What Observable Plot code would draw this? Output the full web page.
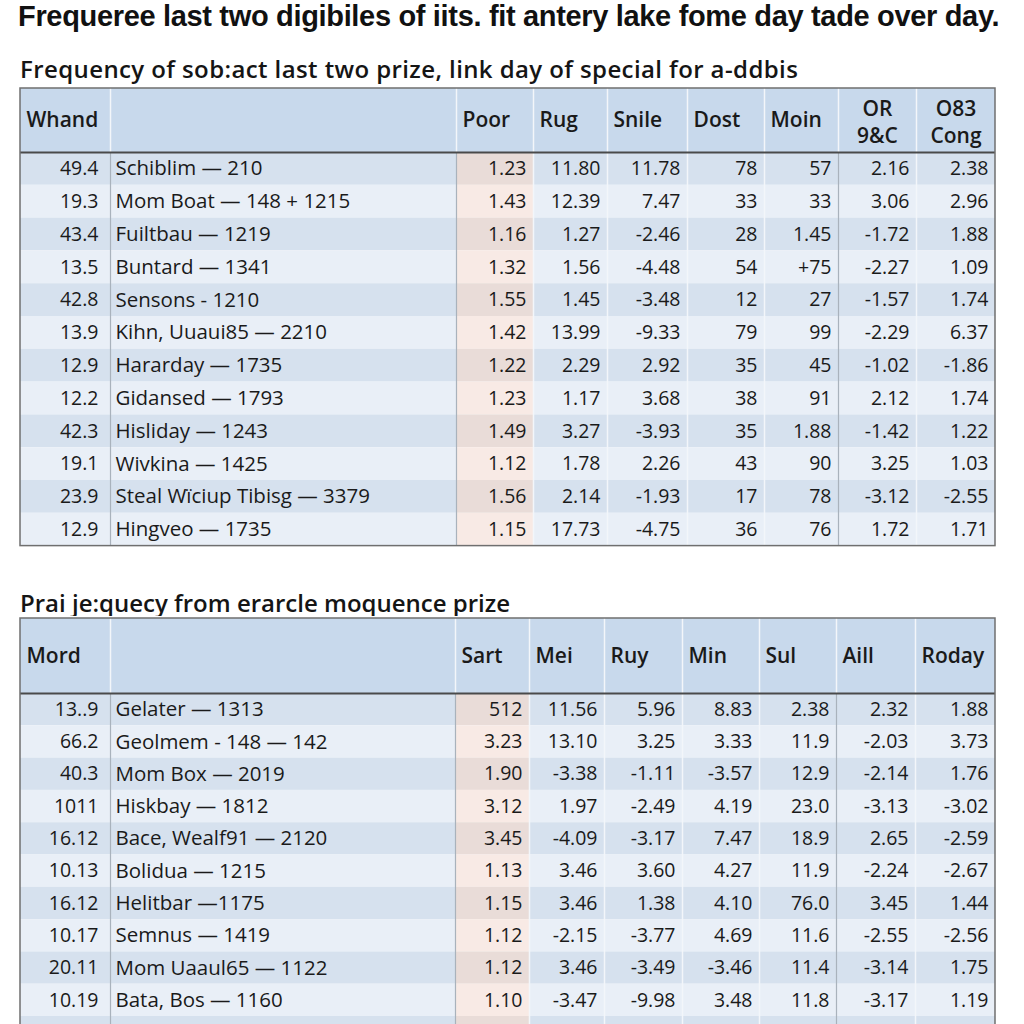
<!DOCTYPE html>
<html><head><meta charset="utf-8">
<script src="https://cdn.jsdelivr.net/npm/d3@7"></script>
<script src="https://cdn.jsdelivr.net/npm/@observablehq/plot@0.6"></script>
<style>
html,body{margin:0;padding:0;background:#fff;}
body{width:1024px;height:1024px;overflow:hidden;position:relative;font-family:"Open Sans",sans-serif;color:#111;}
#title{position:absolute;left:18px;top:0;font-family:"Liberation Sans Narrow","Liberation Sans",sans-serif;font-weight:700;font-size:29px;letter-spacing:-0.33px;line-height:32px;white-space:nowrap;color:#111;}
.sub{position:absolute;left:20px;font-family:"Open Sans",sans-serif;font-weight:600;font-size:24px;line-height:30px;white-space:nowrap;color:#151515;}
#sub1{top:54px;letter-spacing:0.4px;}
#sub2{top:588px;}
#t1{position:absolute;left:0;top:86px;}
#t2{position:absolute;left:0;top:616px;}
</style></head><body>
<div id="title"></div>
<div class="sub" id="sub1"></div>
<div id="t1"></div>
<div class="sub" id="sub2"></div>
<div id="t2"></div>
<script>
// ---------- texts ----------
const title = "Frequeree last two digibiles of iits. fit antery lake fome day tade over day.";
const subtitle1 = "Frequency of sob:act last two prize, link day of special for a-ddbis";
const subtitle2 = "Prai je:quecy from erarcle moquence prize";

// ---------- table 1 data ----------
const t1Headers = ["Whand", "", "Poor", "Rug", "Snile", "Dost", "Moin", "OR\n9&C", "O83\nCong"];
const t1Index = ["49.4", "19.3", "43.4", "13.5", "42.8", "13.9", "12.9", "12.2", "42.3", "19.1", "23.9", "12.9"];
const t1Names = ["Schiblim — 210", "Mom Boat — 148 + 1215", "Fuiltbau — 1219", "Buntard — 1341", "Sensons - 1210", "Kihn, Uuaui85 — 2210", "Hararday — 1735", "Gidansed — 1793", "Hisliday — 1243", "Wivkina — 1425", "Steal Wïciup Tibisg — 3379", "Hingveo — 1735"];
const t1Poor = ["1.23", "1.43", "1.16", "1.32", "1.55", "1.42", "1.22", "1.23", "1.49", "1.12", "1.56", "1.15"];
const t1Rug = ["11.80", "12.39", "1.27", "1.56", "1.45", "13.99", "2.29", "1.17", "3.27", "1.78", "2.14", "17.73"];
const t1Snile = ["11.78", "7.47", "-2.46", "-4.48", "-3.48", "-9.33", "2.92", "3.68", "-3.93", "2.26", "-1.93", "-4.75"];
const t1Dost = ["78", "33", "28", "54", "12", "79", "35", "38", "35", "43", "17", "36"];
const t1Moin = ["57", "33", "1.45", "+75", "27", "99", "45", "91", "1.88", "90", "78", "76"];
const t1OR = ["2.16", "3.06", "-1.72", "-2.27", "-1.57", "-2.29", "-1.02", "2.12", "-1.42", "3.25", "-3.12", "1.72"];
const t1Cong = ["2.38", "2.96", "1.88", "1.09", "1.74", "6.37", "-1.86", "1.74", "1.22", "1.03", "-2.55", "1.71"];

// ---------- table 2 data ----------
const t2Headers = ["Mord", "", "Sart", "Mei", "Ruy", "Min", "Sul", "Aill", "Roday"];
const t2Index = ["13..9", "66.2", "40.3", "1011", "16.12", "10.13", "16.12", "10.17", "20.11", "10.19", ""];
const t2Names = ["Gelater — 1313", "Geolmem - 148 — 142", "Mom Box — 2019", "Hiskbay — 1812", "Bace, Wealf91 — 2120", "Bolidua — 1215", "Helitbar —1175", "Semnus — 1419", "Mom Uaaul65 — 1122", "Bata, Bos — 1160", ""];
const t2Sart = ["512", "3.23", "1.90", "3.12", "3.45", "1.13", "1.15", "1.12", "1.12", "1.10", ""];
const t2Mei = ["11.56", "13.10", "-3.38", "1.97", "-4.09", "3.46", "3.46", "-2.15", "3.46", "-3.47", ""];
const t2Ruy = ["5.96", "3.25", "-1.11", "-2.49", "-3.17", "3.60", "1.38", "-3.77", "-3.49", "-9.98", ""];
const t2Min = ["8.83", "3.33", "-3.57", "4.19", "7.47", "4.27", "4.10", "4.69", "-3.46", "3.48", ""];
const t2Sul = ["2.38", "11.9", "12.9", "23.0", "18.9", "11.9", "76.0", "11.6", "11.4", "11.8", ""];
const t2Aill = ["2.32", "-2.03", "-2.14", "-3.13", "2.65", "-2.24", "3.45", "-2.55", "-3.14", "-3.17", ""];
const t2Roday = ["1.88", "3.73", "1.76", "-3.02", "-2.59", "-2.67", "1.44", "-2.56", "1.75", "1.19", ""];

// ---------- layout (not data) ----------
const layout1 = {widths: [90, 346, 77, 74, 80, 77, 74, 78, 79], headerH: 64, rowH: 32.8, strong: [1, 2, 7]};
const layout2 = {widths: [90, 345, 74, 75, 78, 77, 77, 79, 80], headerH: 75, rowH: 32.3, strong: [1, 2, 7]};
const colors = {header: "#c8d9ec", dark: "#d6e1ee", light: "#e9eff7", tintDark: "#e9dcd8", tintLight: "#f8eae5",
  border: "#6f6f6f", headLine: "#4a4a4a", sepLight: "#f3f6fa", sepStrong: "#a9b2bc", text: "#1a1a1a"};

document.getElementById("title").textContent = title;
document.getElementById("sub1").textContent = subtitle1;
document.getElementById("sub2").textContent = subtitle2;

function buildTable(headers, columns, lay) {
  const xs = [0];
  lay.widths.forEach(w => xs.push(xs[xs.length - 1] + w));
  const W = xs[xs.length - 1];
  const nRows = columns[0].length;
  const H = lay.headerH + nRows * lay.rowH;
  const cells = [], texts = [];
  headers.forEach((h, c) => {
    cells.push({x1: xs[c], x2: xs[c + 1], y1: 0, y2: lay.headerH, fill: colors.header});
  });
  for (let r = 0; r < nRows; r++) {
    const y1 = lay.headerH + r * lay.rowH, y2 = y1 + lay.rowH;
    columns.forEach((col, c) => {
      const dark = r % 2 === 0;
      const fill = c === 2 ? (dark ? colors.tintDark : colors.tintLight) : (dark ? colors.dark : colors.light);
      cells.push({x1: xs[c], x2: xs[c + 1], y1, y2, fill});
      texts.push({c, text: col[r], xs: xs[c], xe: xs[c + 1], y: (y1 + y2) / 2});
    });
  }
  const heads = headers.map((h, c) => ({text: h, xs: xs[c], xe: xs[c + 1], y: lay.headerH / 2, multi: h.includes("\n")}));
  const seps = xs.slice(1, -1).map((x, i) => ({x, strong: lay.strong.includes(i + 1)}));
  const font = {fontFamily: "Open Sans", fill: colors.text};
  return Plot.plot({
    width: 1024,
    height: H + 4,
    x: {domain: [0, W], range: [20, 20 + W], axis: null},
    y: {domain: [0, H], range: [2, 2 + H], axis: null},
    color: {type: "identity"},
    style: {background: "#fff"},
    marks: [
      Plot.rect(cells, {x1: "x1", x2: "x2", y1: "y1", y2: "y2", fill: "fill"}),
      Plot.ruleX(seps, {x: "x", y1: 0, y2: lay.headerH, stroke: colors.sepLight, strokeWidth: 1.5}),
      Plot.ruleX(seps, {x: "x", y1: lay.headerH, y2: H, stroke: d => d.strong ? colors.sepStrong : colors.sepLight, strokeWidth: d => d.strong ? 1.2 : 1.5}),
      Plot.ruleY([lay.headerH], {x1: 0, x2: W, stroke: colors.headLine, strokeWidth: 2}),
      Plot.rect([H], {x1: 0, x2: W, y1: 0, y2: d => d, fill: "none", stroke: colors.border, strokeWidth: 1.5}),
      // header labels
      Plot.text(heads.filter(d => !d.multi), {x: d => d.xs + 6, y: "y", text: "text", textAnchor: "start", fontSize: 21, fontWeight: 600, ...font}),
      Plot.text(heads.filter(d => d.multi), {x: d => (d.xs + d.xe) / 2, y: "y", text: "text", textAnchor: "middle", fontSize: 21, fontWeight: 600, lineHeight: 1.3, ...font}),
      // body: index column (right), name column (left), numbers (right)
      Plot.text(texts.filter(d => d.c === 0), {x: d => d.xe - 12, y: "y", text: "text", textAnchor: "end", fontSize: 19.5, ...font}),
      Plot.text(texts.filter(d => d.c === 1), {x: d => d.xs + 5, y: "y", text: "text", textAnchor: "start", fontSize: 20.5, ...font}),
      Plot.text(texts.filter(d => d.c > 1), {x: d => d.xe - 7, y: "y", text: "text", textAnchor: "end", fontSize: 19.5, ...font})
    ]
  });
}

document.getElementById("t1").append(buildTable(t1Headers,
  [t1Index, t1Names, t1Poor, t1Rug, t1Snile, t1Dost, t1Moin, t1OR, t1Cong], layout1));
document.getElementById("t2").append(buildTable(t2Headers,
  [t2Index, t2Names, t2Sart, t2Mei, t2Ruy, t2Min, t2Sul, t2Aill, t2Roday], layout2));
</script>
</body></html>
